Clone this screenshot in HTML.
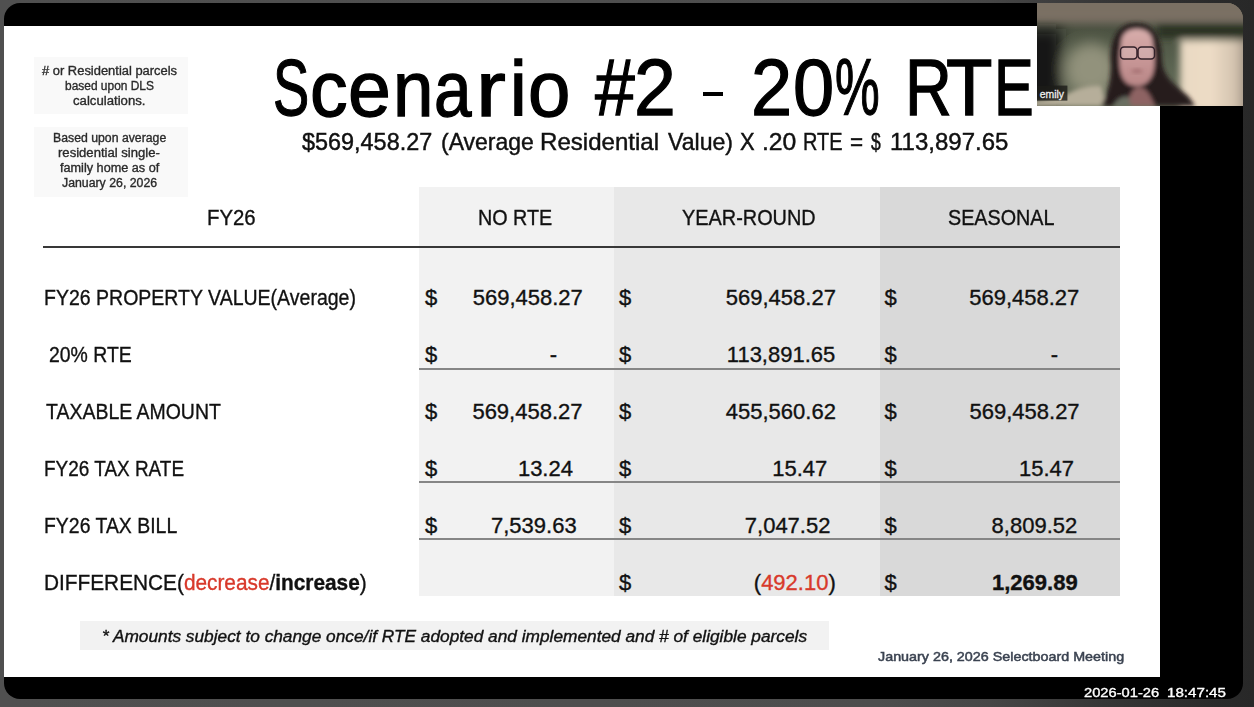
<!DOCTYPE html>
<html><head><meta charset="utf-8">
<style>
html,body{margin:0;padding:0;}
body{width:1254px;height:707px;overflow:hidden;position:relative;background:linear-gradient(to right,#505050 0%,#4d4d4d 70%,#464646 79%,#363636 88%,#2a2a2a 97%,#282828 100%);font-family:"Liberation Sans",sans-serif;}
.abs{position:absolute;}
#frame{left:4px;top:3px;width:1239px;height:696px;background:#000;border-radius:16px;overflow:hidden;}
#slide{left:4px;top:26px;width:1156px;height:651px;background:#fff;}
.t{position:absolute;white-space:nowrap;line-height:1;transform-origin:0 0;-webkit-text-stroke:0.35px currentColor;}
.note{position:absolute;background:#f9f9f9;color:#333;font-size:12px;line-height:15px;text-align:center;}
.col{position:absolute;top:187px;height:409px;}
.hl{position:absolute;height:2px;background:#333;}
#cam{left:1037px;top:3px;width:206px;height:103px;border-top-right-radius:16px;overflow:hidden;background:#5d6552;}
</style></head>
<body>
<div id="frame" class="abs"></div>
<div id="slide" class="abs"></div>

<div class="note" style="left:34px;top:57px;width:154px;height:57px;"></div>
<div class="note" style="left:34px;top:127px;width:154px;height:70px;"></div>

<div class="col" style="left:419px;width:195px;background:#f2f2f2;"></div>
<div class="col" style="left:614px;width:266px;background:#e8e8e8;"></div>
<div class="col" style="left:880px;width:240px;background:#d9d9d9;"></div>

<div class="hl" style="left:43px;top:246px;width:1077px;background:#383838;"></div>
<div class="hl" style="left:419px;top:368px;width:701px;height:2px;background:#868686;"></div>
<div class="hl" style="left:419px;top:481px;width:701px;height:2px;background:#868686;"></div>
<div class="hl" style="left:419px;top:538px;width:701px;height:2px;background:#868686;"></div>

<div class="abs" style="left:80px;top:621px;width:749px;height:29px;background:#f2f2f2;"></div>

<div class="abs" style="left:703px;top:92px;width:20px;height:4px;background:#000;"></div>
<div class="t" style="left:273.1px;top:48.1px;font-size:80px;color:#000;-webkit-text-stroke:1.3px #000;transform:scaleX(0.6787);">S</div>
<div class="t" style="left:309.8px;top:50.6px;font-size:77px;color:#000;-webkit-text-stroke:1.3px #000;transform:scaleX(0.9765);">c</div>
<div class="t" style="left:348.0px;top:50.6px;font-size:77px;color:#000;-webkit-text-stroke:1.3px #000;">e</div>
<div class="t" style="left:392.7px;top:50.6px;font-size:77px;color:#000;-webkit-text-stroke:1.3px #000;transform:scaleX(0.9429);">n</div>
<div class="t" style="left:434.0px;top:50.6px;font-size:77px;color:#000;-webkit-text-stroke:1.3px #000;transform:scaleX(0.8756);">a</div>
<div class="t" style="left:475.8px;top:50.6px;font-size:77px;color:#000;-webkit-text-stroke:1.3px #000;transform:scaleX(1.1619);">r</div>
<div class="t" style="left:509.8px;top:50.6px;font-size:77px;color:#000;-webkit-text-stroke:1.3px #000;">i</div>
<div class="t" style="left:527.7px;top:50.6px;font-size:77px;color:#000;-webkit-text-stroke:1.3px #000;transform:scaleX(0.9892);">o</div>
<div class="t" style="left:594.6px;top:48.1px;font-size:80px;color:#000;-webkit-text-stroke:1.3px #000;transform:scaleX(0.8933);">#</div>
<div class="t" style="left:633.9px;top:48.1px;font-size:80px;color:#000;-webkit-text-stroke:1.3px #000;transform:scaleX(0.9395);">2</div>
<div class="t" style="left:751.1px;top:48.1px;font-size:80px;color:#000;-webkit-text-stroke:1.3px #000;transform:scaleX(0.9237);">2</div>
<div class="t" style="left:792.9px;top:48.1px;font-size:80px;color:#000;-webkit-text-stroke:1.3px #000;transform:scaleX(0.9250);">0</div>
<div class="t" style="left:834.9px;top:48.1px;font-size:80px;color:#000;-webkit-text-stroke:1.3px #000;transform:scaleX(0.6284);">%</div>
<div class="t" style="left:905.1px;top:48.1px;font-size:80px;color:#000;-webkit-text-stroke:1.3px #000;transform:scaleX(0.8102);">R</div>
<div class="t" style="left:946.4px;top:48.1px;font-size:80px;color:#000;-webkit-text-stroke:1.3px #000;transform:scaleX(0.9511);">T</div>
<div class="t" style="left:993.7px;top:48.1px;font-size:80px;color:#000;-webkit-text-stroke:1.3px #000;transform:scaleX(0.7444);">E</div>
<div class="t" style="left:302.3px;top:129.6px;font-size:24.5px;color:#111;-webkit-text-stroke:0.45px #111;transform:scaleX(0.9556);">$569,458.27</div>
<div class="t" style="left:440.5px;top:129.6px;font-size:24.5px;color:#111;-webkit-text-stroke:0.45px #111;transform:scaleX(0.9371);">(Average</div>
<div class="t" style="left:539.9px;top:129.6px;font-size:24.5px;color:#111;-webkit-text-stroke:0.45px #111;transform:scaleX(0.9822);">Residential</div>
<div class="t" style="left:667.8px;top:129.6px;font-size:24.5px;color:#111;-webkit-text-stroke:0.45px #111;transform:scaleX(0.9426);">Value)</div>
<div class="t" style="left:739.6px;top:129.6px;font-size:24.5px;color:#111;-webkit-text-stroke:0.45px #111;transform:scaleX(0.8933);">X</div>
<div class="t" style="left:761.6px;top:129.6px;font-size:24.5px;color:#111;-webkit-text-stroke:0.45px #111;transform:scaleX(1.0094);">.20</div>
<div class="t" style="left:802.7px;top:129.6px;font-size:24.5px;color:#111;-webkit-text-stroke:0.45px #111;transform:scaleX(0.8130);">RTE</div>
<div class="t" style="left:849.8px;top:129.6px;font-size:24.5px;color:#111;-webkit-text-stroke:0.45px #111;transform:scaleX(0.9167);">=</div>
<div class="t" style="left:870.6px;top:129.6px;font-size:24.5px;color:#111;-webkit-text-stroke:0.45px #111;transform:scaleX(0.7143);">$</div>
<div class="t" style="left:889.6px;top:129.6px;font-size:24.5px;color:#111;-webkit-text-stroke:0.45px #111;transform:scaleX(0.9797);">113,897.65</div>
<div class="t" style="left:41.6px;top:65.0px;font-size:12.5px;color:#2a2a2a;transform:scaleX(1.0341);"># or Residential parcels</div>
<div class="t" style="left:64.9px;top:79.6px;font-size:12.5px;color:#2a2a2a;transform:scaleX(0.9554);">based upon DLS</div>
<div class="t" style="left:72.6px;top:94.7px;font-size:12.5px;color:#2a2a2a;transform:scaleX(1.0537);">calculations.</div>
<div class="t" style="left:52.9px;top:132.4px;font-size:12.5px;color:#2a2a2a;transform:scaleX(0.9816);">Based upon average</div>
<div class="t" style="left:58.3px;top:147.4px;font-size:12.5px;color:#2a2a2a;transform:scaleX(1.0469);">residential single-</div>
<div class="t" style="left:59.9px;top:162.4px;font-size:12.5px;color:#2a2a2a;transform:scaleX(1.0133);">family home as of</div>
<div class="t" style="left:62.3px;top:177.2px;font-size:12.5px;color:#2a2a2a;transform:scaleX(0.9844);">January 26, 2026</div>
<div class="t" style="left:206.8px;top:207.4px;font-size:22px;color:#111;transform:scaleX(0.9260);">FY26</div>
<div class="t" style="left:477.9px;top:207.4px;font-size:22px;color:#111;transform:scaleX(0.8975);">NO RTE</div>
<div class="t" style="left:682.1px;top:207.4px;font-size:22px;color:#111;transform:scaleX(0.9041);">YEAR-ROUND</div>
<div class="t" style="left:948.1px;top:207.4px;font-size:22px;color:#111;transform:scaleX(0.8974);">SEASONAL</div>
<div class="t" style="left:43.7px;top:286.9px;font-size:22px;color:#111;transform:scaleX(0.8868);">FY26 PROPERTY VALUE(Average)</div>
<div class="t" style="left:48.6px;top:343.9px;font-size:22px;color:#111;transform:scaleX(0.8826);">20% RTE</div>
<div class="t" style="left:45.6px;top:400.9px;font-size:22px;color:#111;transform:scaleX(0.8848);">TAXABLE AMOUNT</div>
<div class="t" style="left:43.9px;top:457.9px;font-size:22px;color:#111;transform:scaleX(0.8613);">FY26 TAX RATE</div>
<div class="t" style="left:43.8px;top:514.9px;font-size:22px;color:#111;transform:scaleX(0.8831);">FY26 TAX BILL</div>
<div class="t" style="left:43.7px;top:571.9px;font-size:22px;color:#111;transform:scaleX(0.9459);">DIFFERENCE(<span style='color:#d8392b'>decrease</span>/<b>increase</b>)</div>
<div class="t" style="left:472.7px;top:286.9px;font-size:22px;color:#111;">569,458.27</div>
<div class="t" style="left:725.8px;top:286.9px;font-size:22px;color:#111;">569,458.27</div>
<div class="t" style="left:969.2px;top:286.9px;font-size:22px;color:#111;">569,458.27</div>
<div class="t" style="left:549.7px;top:343.9px;font-size:22px;color:#111;">-</div>
<div class="t" style="left:726.8px;top:343.9px;font-size:22px;color:#111;">113,891.65</div>
<div class="t" style="left:1050.8px;top:343.9px;font-size:22px;color:#111;">-</div>
<div class="t" style="left:472.4px;top:400.9px;font-size:22px;color:#111;">569,458.27</div>
<div class="t" style="left:725.8px;top:400.9px;font-size:22px;color:#111;">455,560.62</div>
<div class="t" style="left:969.5px;top:400.9px;font-size:22px;color:#111;">569,458.27</div>
<div class="t" style="left:517.9px;top:457.9px;font-size:22px;color:#111;">13.24</div>
<div class="t" style="left:772.2px;top:457.9px;font-size:22px;color:#111;">15.47</div>
<div class="t" style="left:1019.0px;top:457.9px;font-size:22px;color:#111;">15.47</div>
<div class="t" style="left:491.0px;top:514.9px;font-size:22px;color:#111;">7,539.63</div>
<div class="t" style="left:744.8px;top:514.9px;font-size:22px;color:#111;">7,047.52</div>
<div class="t" style="left:991.6px;top:514.9px;font-size:22px;color:#111;">8,809.52</div>
<div class="t" style="left:753.8px;top:571.9px;font-size:22px;color:#111;">(<span style='color:#d8392b'>492.10</span>)</div>
<div class="t" style="left:992.0px;top:571.9px;font-size:22px;color:#111;"><b>1,269.89</b></div>
<div class="t" style="left:424.9px;top:286.9px;font-size:22px;color:#111;">$</div>
<div class="t" style="left:619.0px;top:286.9px;font-size:22px;color:#111;">$</div>
<div class="t" style="left:884.6px;top:286.9px;font-size:22px;color:#111;">$</div>
<div class="t" style="left:424.9px;top:343.9px;font-size:22px;color:#111;">$</div>
<div class="t" style="left:619.0px;top:343.9px;font-size:22px;color:#111;">$</div>
<div class="t" style="left:884.6px;top:343.9px;font-size:22px;color:#111;">$</div>
<div class="t" style="left:424.9px;top:400.9px;font-size:22px;color:#111;">$</div>
<div class="t" style="left:619.0px;top:400.9px;font-size:22px;color:#111;">$</div>
<div class="t" style="left:884.6px;top:400.9px;font-size:22px;color:#111;">$</div>
<div class="t" style="left:424.9px;top:457.9px;font-size:22px;color:#111;">$</div>
<div class="t" style="left:619.0px;top:457.9px;font-size:22px;color:#111;">$</div>
<div class="t" style="left:884.6px;top:457.9px;font-size:22px;color:#111;">$</div>
<div class="t" style="left:424.9px;top:514.9px;font-size:22px;color:#111;">$</div>
<div class="t" style="left:619.0px;top:514.9px;font-size:22px;color:#111;">$</div>
<div class="t" style="left:884.6px;top:514.9px;font-size:22px;color:#111;">$</div>
<div class="t" style="left:619.0px;top:571.9px;font-size:22px;color:#111;">$</div>
<div class="t" style="left:884.6px;top:571.9px;font-size:22px;color:#111;">$</div>
<div class="t" style="left:102.4px;top:628.5px;font-size:16px;color:#111;font-style:italic;transform:scaleX(1.0799);">* Amounts subject to change once/if RTE adopted and implemented and # of eligible parcels</div>
<div class="t" style="left:877.8px;top:650.4px;font-size:13.5px;color:#3a4250;-webkit-text-stroke:0.5px #3a4250;transform:scaleX(1.0615);">January 26, 2026 Selectboard Meeting</div>
<div class="t" style="left:1084.4px;top:685.6px;font-size:13px;color:#fff;transform:scaleX(1.1308);">2026-01-26</div>
<div class="t" style="left:1166.5px;top:685.6px;font-size:13px;color:#fff;transform:scaleX(1.1653);">18:47:45</div>

<div id="cam" class="abs"><svg width="206" height="103" viewBox="0 0 206 103">
<defs>
<filter id="b1" x="-50%" y="-50%" width="200%" height="200%"><feGaussianBlur stdDeviation="7"/></filter>
<filter id="b4" x="-50%" y="-50%" width="200%" height="200%"><feGaussianBlur stdDeviation="3.5"/></filter>
<filter id="b2" x="-50%" y="-50%" width="200%" height="200%"><feGaussianBlur stdDeviation="2"/></filter>
<filter id="b3" x="-50%" y="-50%" width="200%" height="200%"><feGaussianBlur stdDeviation="0.6"/></filter>
<linearGradient id="gtop" x1="0" y1="0" x2="0" y2="1">
<stop offset="0" stop-color="#72695d"/><stop offset="0.14" stop-color="#6e675b"/><stop offset="0.26" stop-color="#4c5242"/><stop offset="0.6" stop-color="#5a6350"/><stop offset="1" stop-color="#6a705c"/>
</linearGradient>
<linearGradient id="gface" x1="0" y1="0" x2="0" y2="1">
<stop offset="0" stop-color="#d8aeac"/><stop offset="0.5" stop-color="#c99898"/><stop offset="1" stop-color="#b88686"/>
</linearGradient>
<linearGradient id="gcream" x1="0" y1="0" x2="1" y2="0">
<stop offset="0" stop-color="#e8d8c2"/><stop offset="0.45" stop-color="#eddcc6"/><stop offset="0.8" stop-color="#d4c4b0"/><stop offset="1" stop-color="#9c8e80"/>
</linearGradient>
</defs>
<rect width="206" height="103" fill="url(#gtop)"/>
<g filter="url(#b1)">
<ellipse cx="54" cy="66" rx="26" ry="26" fill="#92927c"/>
<rect x="-14" y="26" width="38" height="72" fill="#141412"/>
</g>
<g filter="url(#b4)">
<rect x="-20" y="-10" width="250" height="27" fill="#7a7064"/>
<rect x="120" y="22" width="100" height="13" fill="#2c3024"/>
<rect x="143" y="37" width="68" height="72" fill="url(#gcream)"/>
</g>
<g filter="url(#b2)">
<path d="M-4 103 L -4 98 C 10 96, 24 94, 32 90 C 42 85, 54 82, 64 83 L 70 103 Z" fill="#b6ae9a"/>
<path d="M64 103 C 70 92, 74 80, 74 62 C 72 38, 80 20, 99 20 C 118 20, 125 36, 125 58 C 126 74, 140 84, 150 92 C 154 96, 156 100, 158 103 Z" fill="#261a1e"/>
<path d="M84 42 C 84 30, 91 26, 100 26 C 110 26, 116 31, 116 43 C 118 52, 118 62, 116 70 C 113 79, 107 83, 100 83 C 92 83, 86 79, 84 70 C 82 62, 82 52, 84 42 Z" fill="url(#gface)"/>
<path d="M90 103 C 92 92, 96 84, 102 84 C 110 84, 114 94, 118 103 Z" fill="#8e6464"/>
<path d="M76 103 C 80 96, 86 92, 92 94 L 94 103 Z" fill="#6a6e62"/>
</g>
<g filter="url(#b3)">
<rect x="83.5" y="44" width="16.5" height="12" rx="3.5" fill="#dcc4c4" fill-opacity="0.4" stroke="#33202a" stroke-width="1.5"/>
<rect x="101" y="44" width="16.5" height="12" rx="3.5" fill="#dcc4c4" fill-opacity="0.4" stroke="#33202a" stroke-width="1.5"/>
</g>
<g filter="url(#b2)"><ellipse cx="100" cy="68" rx="5.5" ry="1.6" fill="#9a6466"/></g>
<rect x="0" y="82.6" width="30.4" height="15" fill="#1c1c18" opacity="0.8"/>
<text x="2.7" y="95.3" font-family="Liberation Sans" font-size="11.5" fill="#f0f0f0" stroke="#f0f0f0" stroke-width="0.3" textLength="24.3" lengthAdjust="spacingAndGlyphs">emily</text>
</svg></div>
</body></html>
